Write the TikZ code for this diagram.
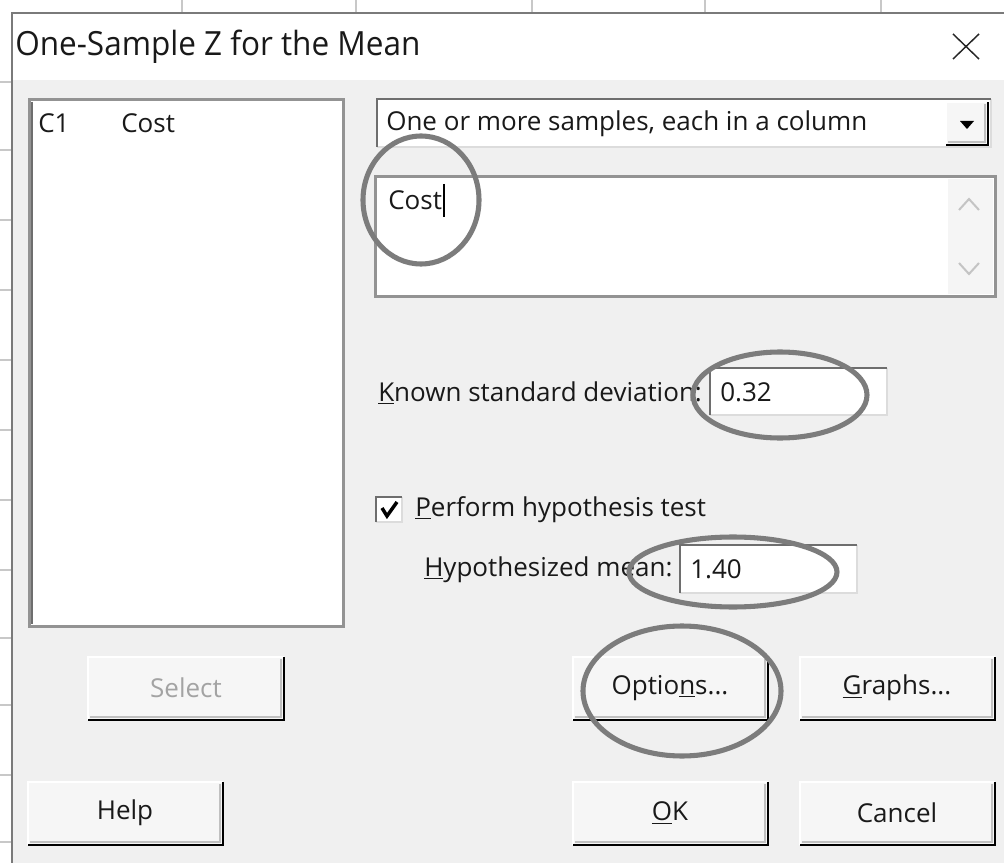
\documentclass[tikz,border=0pt]{standalone}
\usepackage{fontspec}
\setmainfont{Open Sans}
\newfontfamily\titleface{Open Sans}[FakeStretch=0.945]
\definecolor{dlgbg}{HTML}{F0F0F0}
\definecolor{gridc}{HTML}{C8C8C8}
\definecolor{edgec}{HTML}{7A7A7A}
\definecolor{darkedge}{HTML}{6E6E6E}
\definecolor{lightedge}{HTML}{DCDCDC}
\definecolor{ringc}{HTML}{7C7C7C}
\definecolor{disabled}{HTML}{A3A3A3}
\definecolor{chevron}{HTML}{C4C4C4}
\newcommand\uifont{\fontsize{19.5}{23}\selectfont}
\newcommand\titlefont{\titleface\fontsize{25}{29}\selectfont}
% raised push button: face, light top/left edge, dark bottom/right edge
\newcommand\uibutton[4]{%
  \fill[dlgbg!60!white] (#1,#2) rectangle (#3,#4);
  \draw[white, line width=1.2pt] (#1,#4) -- (#1,#2) -- (#3,#2);
  \draw[black, line width=1.8pt] (#1,#4) -- (#3,#4) -- (#3,#2);
  \draw[lightedge!70!gray, line width=0.9pt] (#1+2,#4-3) -- (#3-3,#4-3) -- (#3-3,#2+2);
}
% sunken white field: dark top/left, light bottom/right
\newcommand\uifield[4]{%
  \fill[white] (#1,#2) rectangle (#3,#4);
  \draw[lightedge, line width=1.2pt] (#1,#4) -- (#3,#4) -- (#3,#2);
  \draw[darkedge, line width=1.4pt] (#1,#4) -- (#1,#2) -- (#3,#2);
}
\tikzset{
  label/.style={anchor=west, inner sep=0pt, font=\uifont, text=black!90},
  btntext/.style={inner sep=0pt, font=\uifont, text=black!90},
  ring/.style={draw=ringc, line width=3.8pt},
}
\begin{document}
\begin{tikzpicture}[x=0.75pt, y=-0.75pt]
\useasboundingbox (0,0) rectangle (1004,863);
% worksheet behind the dialog
\fill[white] (0,0) rectangle (1004,863);
\foreach \gx in {182,356,532,705,881} \draw[gridc, line width=0.8pt] (\gx,0) -- (\gx,13);
\foreach \gy in {82,150,220,290,360,430,500,570,638,705,775,842}
  \draw[gridc, line width=0.8pt] (0,\gy) -- (12,\gy);

% dialog frame and title bar
\fill[dlgbg] (12,13) rectangle (1004,863);
\fill[white] (12,13) rectangle (1004,80);
\draw[edgec, line width=1pt] (1004,13) -- (12,13) -- (12,863);
\node[anchor=west, inner sep=0pt, font=\titlefont, text=black!90] (title) at (15,47) {One-Sample Z for the Mean};
\draw[black!85, line width=1.1pt] (953,34) -- (979,59) (979,34) -- (953,59);

% variable list
\fill[white] (28,98) rectangle (345,628);
\draw[gray!85, line width=2.4pt] (29.5,99.5) rectangle (343.5,626.5);
\draw[darkedge, line width=0.8pt] (32,102) -- (32,624);
\node[label] (c1) at (38,123) {C1};
\node[label] (costvar) at (121,123) {Cost};

% sample layout drop-down
\uifield{377}{99}{991}{147}
\node[label] (layout) at (386,124) {One or more samples, each in a column};
\uibutton{946}{102}{988}{145}
\fill[black] (960,121) -- (974,121) -- (967,129) -- cycle;

% column entry box with scroll bar
\fill[white] (374,175) rectangle (997,298);
\draw[gray!85, line width=2.4pt] (375.5,176.5) rectangle (995.5,296.5);
\fill[dlgbg!70!white] (948,179) rectangle (993,294);
\draw[chevron, line width=1.5pt] (959,210) -- (969,199) -- (979,210);
\draw[chevron, line width=1.5pt] (959,263) -- (969,274) -- (979,263);
\node[label] (costcol) at (388,200) {Cost};
\draw[black, line width=0.9pt] (444,184) -- (444,217);

% known standard deviation
\node[label] (sigmalbl) at (378,393) {\underline{K}nown standard deviation:};
\uifield{710}{368}{887}{415}
\node[label] (sigma) at (720,392) {0.32};

% hypothesis test
\fill[white] (376,497) rectangle (402,522);
\draw[lightedge, line width=1pt] (376,522) -- (402,522) -- (402,497);
\draw[darkedge, line width=1.4pt] (376,522) -- (376,497) -- (402,497);
\draw[black, line width=2.6pt] (382,508) -- (387,516) -- (397,502);
\node[label] (testlbl) at (415,510) {\underline{P}erform hypothesis test};
\node[label] (mulbl) at (424,570) {\underline{H}ypothesized mean:};
\uifield{680}{545}{857}{593}
\node[label] (mu) at (690,569) {1.40};

% push buttons
\uibutton{88}{657}{284}{720}
\node[btntext, text=disabled] (select) at (186,688) {Select};
\uibutton{573}{657}{768}{720}
\node[btntext] (options) at (670,688) {Optio\underline{n}s...};
\uibutton{800}{657}{995}{720}
\node[btntext] (graphs) at (897,688) {\underline{G}raphs...};
\uibutton{28}{782}{223}{845}
\node[btntext] (help) at (125,813) {Help};
\uibutton{573}{782}{768}{845}
\node[btntext] (ok) at (670,813) {\underline{O}K};
\uibutton{800}{782}{995}{845}
\node[btntext] (cancel) at (897,813) {Cancel};

% hand-drawn highlight rings
\draw[ring] (421,200) ellipse [x radius=58, y radius=64];
\draw[ring] (780,395) ellipse [x radius=87, y radius=43];
\draw[ring] (733,572) ellipse [x radius=104, y radius=35];
\draw[ring] (682,691) ellipse [x radius=99, y radius=65];
\end{tikzpicture}
\end{document}
